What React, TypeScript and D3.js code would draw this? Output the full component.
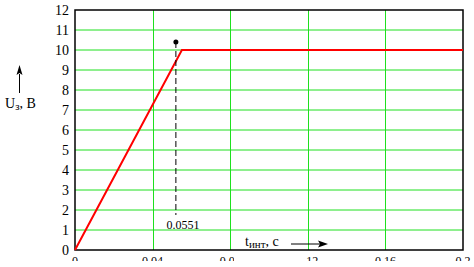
import React from "react";
import * as d3 from "d3";

const curveT = [0, 0.0551, 0.2];
const curveU = [0, 10, 10];
const xTicks = [0, 0.04, 0.08, 0.12, 0.16, 0.2];
const xTickLabels = ["0", "0.04", "0.08", "0.12", "0.16", "0.2"];
const yTicks = [0, 1, 2, 3, 4, 5, 6, 7, 8, 9, 10, 11, 12];
const markT = [0.052];
const markU = [10.4];
const markLabel = ["0.0551"];

const W = 474, H = 267;
const L = 75, R = 463, T = 10, B = 250;
const GREEN = "#1ee01e";
const SERIF = "'Times New Roman', 'Liberation Serif', 'DejaVu Serif', serif";

export default function App() {
  const x = d3.scaleLinear().domain([0, 0.2]).range([L, R]);
  const y = d3.scaleLinear().domain([0, 12]).range([B, T]);
  const pts: [number, number][] = curveT.map((t, i) => [t, curveU[i]]);
  const line = d3.line<[number, number]>().x(d => x(d[0])).y(d => y(d[1]));
  return (
    <svg width={W} height={H} style={{ position: "absolute", left: 0, top: 0, background: "#fff", fontFamily: SERIF }}>
      <defs>
        <clipPath id="tickclip">
          <rect x={0} y={0} width={W} height={261} />
        </clipPath>
      </defs>
      <rect x={0} y={0} width={W} height={H} fill="#fff" />
      {yTicks.slice(1, -1).map(v => (
        <line key={"h" + v} x1={L} x2={R} y1={y(v)} y2={y(v)} stroke={GREEN} strokeWidth={1} />
      ))}
      {xTicks.slice(1, -1).map(v => (
        <line key={"v" + v} x1={Math.round(x(v)) + 0.5} x2={Math.round(x(v)) + 0.5} y1={T} y2={B} stroke={GREEN} strokeWidth={1} />
      ))}
      <rect x={L} y={T} width={R - L} height={B - T} fill="none" stroke="#000" strokeWidth={1.5} />
      {yTicks.map(v => (
        <text key={"yt" + v} x={69} y={y(v) + 5} textAnchor="end" style={{ fontFamily: SERIF }} fontSize={14} fill="#000">
          {v}
        </text>
      ))}
      <g clipPath="url(#tickclip)">
        {xTicks.map((v, i) => (
          <text key={"xt" + v} x={x(v)} y={265} textAnchor="middle" style={{ fontFamily: SERIF }} fontSize={12} fill="#000">
            {xTickLabels[i]}
          </text>
        ))}
      </g>
      <rect x={234} y={B + 1} width={70} height={H - B} fill="#fff" />
      <path d={line(pts) || ""} fill="none" stroke="#ff0000" strokeWidth={2} />
      <line x1={x(markT[0])} x2={x(markT[0])} y1={y(markU[0])} y2={215} stroke="#000" strokeWidth={1} strokeDasharray="6,3" />
      <circle cx={x(markT[0])} cy={y(markU[0])} r={2.5} fill="#000" />
      <text x={183} y={229} textAnchor="middle" style={{ fontFamily: SERIF }} fontSize={12} fill="#000">
        {markLabel[0]}
      </text>
      <text x={245} y={246} style={{ fontFamily: SERIF }} fontSize={14} fill="#000">
        t<tspan fontSize={11} dy={2}>инт</tspan><tspan dy={-2}>, с</tspan>
      </text>
      <line x1={291} x2={322} y1={244} y2={244} stroke="#000" strokeWidth={1} />
      <path d="M 328 244 L 318 240.5 L 320 244 L 318 247.5 Z" fill="#000" />
      <text x={5} y={108} style={{ fontFamily: SERIF }} fontSize={14} fill="#000">
        U<tspan fontSize={11} dy={2}>з</tspan><tspan dy={-2}>, В</tspan>
      </text>
      <line x1={19.5} x2={19.5} y1={93} y2={74} stroke="#000" strokeWidth={1} />
      <path d="M 19.5 65 L 16.5 75 L 19.5 73 L 22.5 75 Z" fill="#000" />
    </svg>
  );
}
